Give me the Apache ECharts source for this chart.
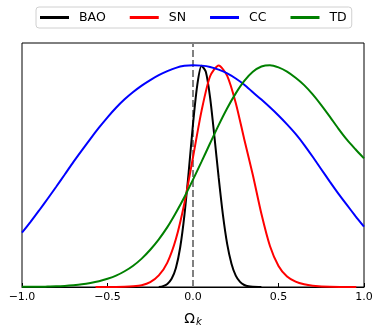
<!DOCTYPE html>
<html>
<head>
<meta charset="utf-8">
<script src="https://cdn.jsdelivr.net/npm/echarts@6/dist/echarts.min.js"></script>
<style>
  html, body { margin: 0; padding: 0; background: #fff; }
  #chart { width: 382px; height: 334px; }
</style>
</head>
<body>
<div id="chart"></div>
<script>
// curves, each normalised to peak 1
var baoX = [-0.2, -0.175, -0.15, -0.125, -0.1, -0.075, -0.05, -0.025, 0, 0.025, 0.05, 0.075, 0.1, 0.125, 0.15, 0.175, 0.2, 0.225, 0.25, 0.275, 0.3, 0.325, 0.35, 0.4];
var baoY = [0, 0.004, 0.014, 0.037, 0.086, 0.178, 0.325, 0.52, 0.734, 0.91, 0.997, 0.97, 0.854, 0.68, 0.494, 0.325, 0.193, 0.105, 0.051, 0.023, 0.009, 0.003, 0.001, 0];

var snX = [-0.57, -0.5, -0.4, -0.35, -0.3, -0.25, -0.2, -0.15, -0.1, -0.05, 0, 0.05, 0.1, 0.15, 0.2, 0.25, 0.3, 0.35, 0.4, 0.45, 0.5, 0.55, 0.6, 0.65, 0.7, 0.8, 0.955];
var snY = [0, 0, 0.001, 0.003, 0.008, 0.022, 0.052, 0.11, 0.216, 0.379, 0.585, 0.794, 0.95, 0.999, 0.952, 0.83, 0.665, 0.505, 0.33, 0.185, 0.095, 0.047, 0.024, 0.012, 0.006, 0.001, 0];

var gridX = [-1, -0.95, -0.9, -0.85, -0.8, -0.75, -0.7, -0.65, -0.6, -0.55, -0.5, -0.45, -0.4, -0.35, -0.3, -0.25, -0.2, -0.15, -0.1, -0.05,
  0, 0.05, 0.1, 0.15, 0.2, 0.25, 0.3, 0.35, 0.4, 0.45, 0.5, 0.55, 0.6, 0.65, 0.7, 0.75, 0.8, 0.85, 0.9, 0.95, 1];
var ccY = [0.245, 0.294, 0.345, 0.398, 0.452, 0.507, 0.563, 0.616, 0.668, 0.718, 0.765, 0.808, 0.846, 0.879, 0.908, 0.933, 0.955, 0.973, 0.988, 0.997,
  1.0, 0.998, 0.992, 0.98, 0.963, 0.94, 0.912, 0.878, 0.845, 0.81, 0.773, 0.733, 0.69, 0.641, 0.587, 0.531, 0.475, 0.421, 0.37, 0.32, 0.272];
var tdY = [0.001, 0.001, 0.001, 0.002, 0.003, 0.005, 0.008, 0.012, 0.018, 0.026, 0.037, 0.051, 0.071, 0.096, 0.128, 0.168, 0.215, 0.27, 0.335, 0.406,
  0.484, 0.565, 0.648, 0.73, 0.806, 0.873, 0.929, 0.97, 0.994, 1.0, 0.99, 0.971, 0.943, 0.91, 0.868, 0.82, 0.768, 0.714, 0.664, 0.621, 0.58];

var names = ['BAO', 'SN', 'CC', 'TD'];
var colors = ['#000000', '#ff0000', '#0000ff', '#008000'];
var xTicks = [-1, -0.5, 0, 0.5, 1];
var markX = 0;       // dashed reference line
var yRange = [0, 1.1];

function pairs(xs, ys) {
  var out = [];
  for (var i = 0; i < xs.length; i++) out.push([xs[i], ys[i]]);
  return out;
}

var curves = [pairs(baoX, baoY), pairs(snX, snY), pairs(gridX, ccY), pairs(gridX, tdY)];

var series = [{
  name: 'zero',
  type: 'line',
  data: [[markX, yRange[0]], [markX, yRange[1]]],
  showSymbol: false,
  silent: true,
  z: 1,
  lineStyle: { color: '#808080', type: [7, 3], width: 2 }
}];
for (var i = 0; i < names.length; i++) {
  series.push({
    name: names[i],
    type: 'line',
    data: curves[i],
    smooth: 0.25,
    showSymbol: false,
    clip: false,
    z: 2 + i,
    lineStyle: { color: colors[i], width: 2 },
    itemStyle: { color: colors[i] }
  });
}

var chart = echarts.init(document.getElementById('chart'));
chart.setOption({
  animation: false,
  textStyle: { fontFamily: 'DejaVu Sans' },
  legend: {
    data: names,
    left: 36,
    top: 7,
    padding: [4, 5, 4, 4],
    itemGap: 24,
    itemWidth: 29,
    itemHeight: 3,
    icon: 'rect',
    borderColor: '#d0d0d0',
    borderWidth: 1,
    borderRadius: 3,
    textStyle: { fontSize: 12.5, color: '#000', padding: [0, 0, 0, 5] }
  },
  grid: {
    left: 22, right: 18, top: 43, bottom: 47,
    show: true, borderColor: '#000', borderWidth: 1
  },
  xAxis: {
    type: 'value',
    min: -1, max: 1, interval: 0.5,
    name: '{a|Ω}{b|k}',
    nameLocation: 'middle',
    nameGap: 24,
    nameTextStyle: {
      rich: {
        a: { fontSize: 14, color: '#000' },
        b: { fontSize: 10, fontStyle: 'italic', color: '#000', padding: [6, 0, 0, 1] }
      }
    },
    axisLine: { show: true, lineStyle: { color: '#000', width: 1 } },
    axisTick: { show: true, inside: true, length: 4, lineStyle: { color: '#000' } },
    axisLabel: {
      fontSize: 11, color: '#000', margin: 5,
      formatter: function (v) {
        if (xTicks.indexOf(v) < 0) return '';
        return v.toFixed(1).replace('-', '\u2212');
      }
    },
    splitLine: { show: false }
  },
  yAxis: {
    type: 'value',
    min: yRange[0], max: yRange[1],
    axisLine: { show: false },
    axisTick: { show: false },
    axisLabel: { show: false },
    splitLine: { show: false }
  },
  series: series
});
</script>
</body>
</html>
